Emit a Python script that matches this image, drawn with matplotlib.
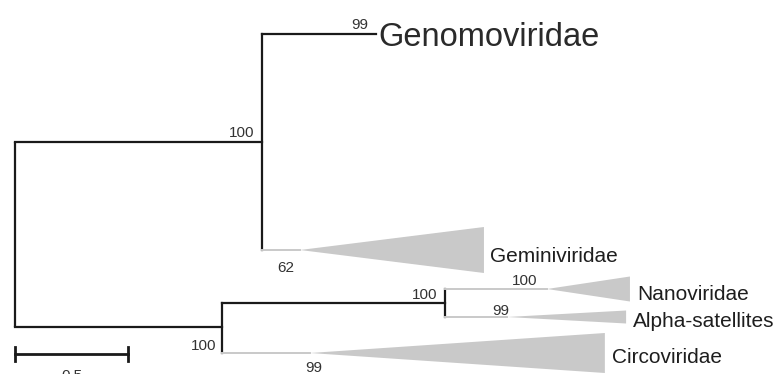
import matplotlib.pyplot as plt
from matplotlib.patches import Polygon

# collapsed clades (tips of the tree)
clades = ['Genomoviridae', 'Geminiviridae', 'Nanoviridae', 'Alpha-satellites', 'Circoviridae']
# branch lengths (substitutions/site)
len_a = 1.093          # root -> Genomo/Gemini node
len_b = 0.916          # root -> Circo/Nano node
len_c = 0.987          # B -> Nano/Alpha node
stem = [0.504, 0.168, 0.451, 0.274, 0.389]   # node -> clade start
depth = [0.0, 0.814, 0.367, 0.527, 1.305]     # clade triangle depth
# vertical layout (rows, top = 0)
tip_y = [34, 250, 289, 317, 353]
spread = [0, 46, 25, 13, 40]
node_a_y, node_b_y, node_c_y = 142, 327, 303
# bootstrap support
boot_nodes = [100, 100, 100]      # A, B, C
boot_tips = [99, 62, 100, 99, 99]

fig = plt.figure(figsize=(7.75, 3.74), dpi=100)
ax = fig.add_axes([0, 0, 1, 1])
ax.set_xlim(-15 / 226, 760 / 226)
ax.set_ylim(374, 0)
ax.axis('off')

K = '#1a1a1a'
G = '#c9c9c9'
lw = 1.6
fnum = dict(fontsize=11, color='#333333', family='Liberation Sans')

xa, xb = len_a, len_b
xc = xb + len_c
parent_x = [xa, xa, xc, xc, xb]

# root and internal branches
ax.plot([0, 0], [node_a_y, node_b_y], color=K, lw=lw, solid_capstyle='butt')
ax.plot([0, xa], [node_a_y, node_a_y], color=K, lw=lw)
ax.plot([0, xb], [node_b_y, node_b_y], color=K, lw=lw)
ax.plot([xa, xa], [tip_y[0], tip_y[1]], color=K, lw=lw)
ax.plot([xb, xb], [node_c_y, tip_y[4]], color=K, lw=lw)
ax.plot([xb, xc], [node_c_y, node_c_y], color=K, lw=lw)
ax.plot([xc, xc], [tip_y[2], tip_y[3]], color=K, lw=lw)

for i, name in enumerate(clades):
    x0 = parent_x[i]
    x1 = x0 + stem[i]
    y = tip_y[i]
    if depth[i] == 0:
        ax.plot([x0, x1], [y, y], color=K, lw=lw)
        continue
    ax.plot([x0, x1], [y, y], color=G, lw=1.4)
    x2 = x1 + depth[i]
    ax.add_patch(Polygon([(x1, y), (x2, y - spread[i] / 2), (x2, y + spread[i] / 2)],
                         closed=True, facecolor=G, edgecolor='none'))

# clade labels
px = 1 / 226
ax.text(parent_x[0] + stem[0] + 2 * px, 46, clades[0], fontsize=23.5, color='#2a2a2a',
        family='Liberation Sans', va='baseline', ha='left')
lab_x = [None, 490, 637, 633, 612]
lab_base = [None, 262, 300, 327, 363]
for i in range(1, 5):
    ax.text((lab_x[i] - 15) * px, lab_base[i], clades[i], fontsize=15, color='#1e1e1e',
            family='Liberation Sans', va='baseline', ha='left')

# bootstrap values at nodes
ax.text(xa - 8 * px, node_a_y - 5, str(boot_nodes[0]), ha='right', va='baseline', **fnum)
ax.text(xb - 6 * px, node_b_y + 23, str(boot_nodes[1]), ha='right', va='baseline', **fnum)
ax.text(xc - 8 * px, node_c_y - 4, str(boot_nodes[2]), ha='right', va='baseline', **fnum)
# bootstrap values on clade branches
ax.text(parent_x[0] + stem[0] - 8 * px, tip_y[0] - 5, str(boot_tips[0]), ha='right', va='baseline', **fnum)
ax.text(parent_x[1] + 15 * px, tip_y[1] + 22, str(boot_tips[1]), ha='left', va='baseline', **fnum)
ax.text(parent_x[2] + 67 * px, tip_y[2] - 4, str(boot_tips[2]), ha='left', va='baseline', **fnum)
ax.text(parent_x[3] + 47 * px, tip_y[3] - 2, str(boot_tips[3]), ha='left', va='baseline', **fnum)
ax.text(parent_x[4] + 83 * px, tip_y[4] + 19, str(boot_tips[4]), ha='left', va='baseline', **fnum)

# scale bar
sb = 0.5
ax.plot([0, sb], [354, 354], color=K, lw=2)
ax.plot([0, 0], [347, 361], color=K, lw=2)
ax.plot([sb, sb], [347, 361], color=K, lw=2)
ax.text(sb / 2, 369, str(sb), ha='center', va='top', **fnum)

fig.savefig('out.png', dpi=100)
